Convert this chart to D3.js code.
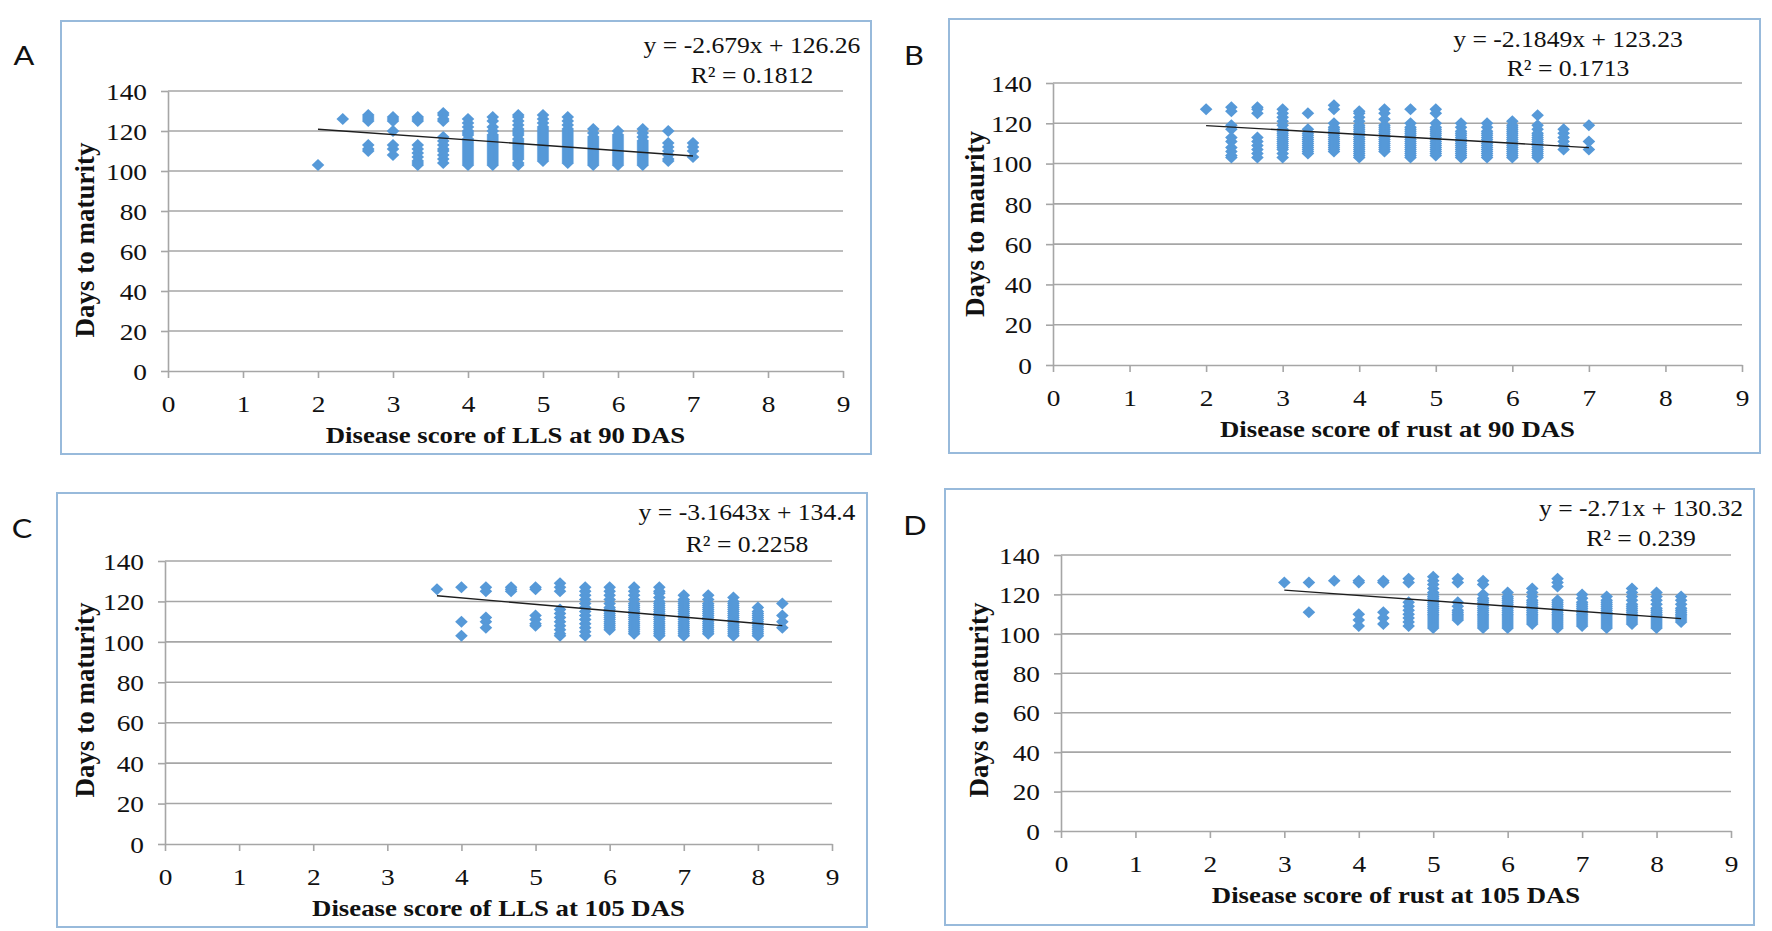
<!DOCTYPE html>
<html>
<head>
<meta charset="utf-8">
<script src="https://cdn.jsdelivr.net/npm/d3@7"></script>
<style>
  body { margin: 0; background: #fff; }
  svg { display: block; }
</style>
</head>
<body>
<svg width="1772" height="931"></svg>
<script>
// tick labels shared by all four panels
var xTicks = [0, 1, 2, 3, 4, 5, 6, 7, 8, 9];
var yTicks = [0, 20, 40, 60, 80, 100, 120, 140];

// A: LLS at 90 DAS
var scoreA = [2, 2.33, 2.67, 3, 3.33, 3.67, 4, 4.33, 4.67, 5, 5.33, 5.67, 6, 6.33, 6.67, 7];
var daysA = [
  [103],
  [126],
  [128, 127, 126, 125, 113, 111, 110],
  [127, 126, 125, 120, 113, 111, 108],
  [127, 126, 125, 113, 111, 109, 107, 105, 104, 103],
  [129, 128, 126, 125, 117, 115, 113, 111, 110, 108, 106, 104],
  [126, 124, 122, 120, 119, 118, 116, 115, 114, 113, 112, 111, 110, 109, 108, 107, 106, 105, 104, 103],
  [127, 125, 122, 120, 118, 117, 116, 115, 114, 113, 112, 111, 110, 109, 108, 107, 106, 105, 104, 103],
  [128, 127, 125, 123, 121, 120, 119, 118, 116, 115, 114, 113, 112, 111, 110, 109, 108, 107, 106, 104, 103],
  [128, 126, 124, 122, 121, 120, 119, 118, 117, 116, 115, 114, 113, 112, 111, 110, 109, 108, 107, 106, 105],
  [127, 125, 123, 121, 120, 119, 118, 117, 116, 115, 114, 113, 112, 111, 110, 109, 108, 107, 106, 105, 104],
  [121, 119, 117, 116, 115, 114, 113, 112, 111, 110, 109, 108, 107, 106, 105, 104, 103],
  [120, 118, 117, 116, 115, 114, 113, 112, 111, 110, 109, 108, 107, 106, 105, 104, 103],
  [121, 119, 117, 115, 114, 113, 112, 111, 110, 109, 108, 107, 106, 105, 104, 103],
  [120, 114, 112, 110, 108, 106, 105],
  [114, 112, 110, 107]
];
var trendA = [-2.679, 126.26, 2, 7];
var eqA = ["y = -2.679x + 126.26", "R\u00b2 = 0.1812"];

// B: rust at 90 DAS
var scoreB = [2, 2.33, 2.67, 3, 3.33, 3.67, 4, 4.33, 4.67, 5, 5.33, 5.67, 6, 6.33, 6.67, 7];
var daysB = [
  [127],
  [128, 126, 119, 117, 113, 111, 108, 106, 104, 103],
  [128, 127, 125, 113, 111, 109, 107, 105, 103],
  [127, 125, 123, 121, 119, 117, 116, 115, 114, 113, 112, 111, 110, 109, 108, 107, 105, 103],
  [125, 117, 115, 114, 113, 112, 111, 110, 109, 108, 107, 106, 105],
  [129, 127, 120, 118, 117, 116, 115, 114, 113, 112, 111, 110, 109, 108, 107, 106],
  [126, 125, 123, 121, 119, 118, 117, 116, 115, 114, 113, 112, 111, 110, 109, 108, 107, 106, 105, 104, 103],
  [127, 125, 122, 119, 118, 117, 116, 115, 114, 113, 112, 111, 110, 109, 108, 107, 106],
  [127, 120, 118, 117, 116, 115, 114, 113, 112, 111, 110, 109, 108, 107, 106, 105, 104, 103],
  [127, 125, 120, 118, 117, 116, 115, 114, 113, 112, 111, 110, 109, 108, 107, 106, 105, 104],
  [120, 118, 116, 115, 114, 113, 112, 111, 110, 109, 108, 107, 106, 105, 104, 103],
  [120, 118, 116, 115, 114, 113, 112, 111, 110, 109, 108, 107, 106, 105, 104, 103],
  [121, 119, 118, 117, 116, 115, 114, 113, 112, 111, 110, 109, 108, 107, 106, 105, 104, 103],
  [124, 119, 117, 115, 114, 113, 112, 111, 110, 109, 108, 107, 106, 105, 104, 103],
  [117, 115, 113, 111, 109, 107],
  [119, 111, 107]
];
var trendB = [-2.1849, 123.23, 2, 7];
var eqB = ["y = -2.1849x + 123.23", "R\u00b2 = 0.1713"];

// C: LLS at 105 DAS
var scoreC = [3.67, 4, 4.33, 4.67, 5, 5.33, 5.67, 6, 6.33, 6.67, 7, 7.33, 7.67, 8, 8.33];
var daysC = [
  [126],
  [127, 110, 103],
  [127, 125, 112, 110, 107],
  [127, 126, 125],
  [127, 126, 113, 111, 109, 108],
  [129, 127, 125, 116, 114, 112, 110, 108, 106, 104, 103],
  [127, 125, 123, 121, 119, 117, 115, 113, 111, 109, 107, 105, 103],
  [127, 125, 123, 121, 119, 117, 116, 115, 114, 113, 112, 111, 110, 109, 108, 107, 106],
  [127, 125, 123, 121, 119, 118, 117, 116, 115, 114, 113, 112, 111, 110, 109, 108, 107, 106, 105, 104],
  [127, 125, 124, 122, 120, 119, 118, 117, 116, 115, 114, 113, 112, 111, 110, 109, 108, 107, 106, 105, 104, 103],
  [123, 121, 120, 119, 118, 117, 116, 115, 114, 113, 112, 111, 110, 109, 108, 107, 106, 105, 104, 103],
  [123, 121, 119, 118, 117, 116, 115, 114, 113, 112, 111, 110, 109, 108, 107, 106, 105, 104],
  [122, 120, 119, 118, 117, 116, 115, 114, 113, 112, 111, 110, 109, 108, 107, 106, 105, 104, 103],
  [117, 115, 114, 113, 112, 111, 110, 109, 108, 107, 106, 105, 104, 103],
  [119, 113, 110, 107]
];
var trendC = [-3.1643, 134.4, 3.67, 8.33];
var eqC = ["y = -3.1643x + 134.4", "R\u00b2 = 0.2258"];

// D: rust at 105 DAS
var scoreD = [3, 3.33, 3.67, 4, 4.33, 4.67, 5, 5.33, 5.67, 6, 6.33, 6.67, 7, 7.33, 7.67, 8, 8.33];
var daysD = [
  [126],
  [126, 111],
  [127],
  [127, 126, 110, 107, 104],
  [127, 126, 111, 108, 105],
  [128, 126, 116, 114, 112, 110, 108, 106, 104],
  [129, 127, 125, 123, 121, 120, 119, 118, 117, 116, 115, 114, 113, 112, 111, 110, 109, 108, 107, 106, 105, 104, 103],
  [128, 126, 116, 114, 112, 111, 110, 109, 108, 107],
  [127, 125, 120, 118, 117, 116, 115, 114, 113, 112, 111, 110, 109, 108, 107, 106, 105, 104, 103],
  [121, 119, 118, 117, 116, 115, 114, 113, 112, 111, 110, 109, 108, 107, 106, 105, 104, 103],
  [123, 121, 119, 117, 116, 115, 114, 113, 112, 111, 110, 109, 108, 107, 106, 105],
  [128, 126, 124, 117, 116, 115, 114, 113, 112, 111, 110, 109, 108, 107, 106, 105, 104, 103],
  [120, 118, 116, 115, 114, 113, 112, 111, 110, 109, 108, 107, 106, 105, 104],
  [119, 117, 116, 115, 114, 113, 112, 111, 110, 109, 108, 107, 106, 105, 104, 103],
  [123, 121, 119, 117, 115, 114, 113, 112, 111, 110, 109, 108, 107, 106, 105],
  [121, 119, 117, 115, 113, 112, 111, 110, 109, 108, 107, 106, 105, 104, 103],
  [119, 117, 115, 113, 112, 111, 110, 109, 108, 107, 106]
];
var trendD = [-2.71, 130.32, 3, 8.33];
var eqD = ["y = -2.71x + 130.32", "R\u00b2 = 0.239"];

var panels = [
  {name: "A", box: [61, 21, 871, 454], xr: [168, 843], yr: [371, 91], label: [24, 65],
   eqX: 752, eqY: [53, 83], yt: [85, 240], xs: scoreA, ys: daysA, trend: trendA, eq: eqA,
   xTitle: "Disease score of LLS at 90 DAS", yTitle: "Days to maturity"},
  {name: "B", box: [949, 19, 1760, 453], xr: [1053, 1742], yr: [365, 83], label: [914, 65],
   eqX: 1568, eqY: [47, 76], yt: [975, 224], xs: scoreB, ys: daysB, trend: trendB, eq: eqB,
   xTitle: "Disease score of rust at 90 DAS", yTitle: "Days to maurity"},
  {name: "C", box: [57, 493, 867, 927], xr: [165, 832], yr: [844, 561], label: [22, 538],
   eqX: 747, eqY: [520, 552], yt: [85, 700], xs: scoreC, ys: daysC, trend: trendC, eq: eqC,
   xTitle: "Disease score of LLS at 105 DAS", yTitle: "Days to maturity"},
  {name: "D", box: [945, 489, 1754, 925], xr: [1061, 1731], yr: [831, 555], label: [915, 535],
   eqX: 1641, eqY: [516, 546], yt: [979, 700], xs: scoreD, ys: daysD, trend: trendD, eq: eqD,
   xTitle: "Disease score of rust at 105 DAS", yTitle: "Days to maturity"}
];

var SX = 1.14;   // the original figure is a little stretched sideways
var serif = "'Liberation Serif', 'Times New Roman', serif";
var gridColor = "#a6a6a6";
var dotColor = "#5699d8";

var svg = d3.select("svg");

function stext(g, x, y, s) {
  return g.append("text")
    .attr("transform", "translate(" + x + "," + y + ") scale(" + SX + ",1)")
    .text(s);
}

panels.forEach(function(p) {
  var g = svg.append("g").attr("class", "panel panel-" + p.name);

  g.append("rect")
    .attr("x", p.box[0]).attr("y", p.box[1])
    .attr("width", p.box[2] - p.box[0]).attr("height", p.box[3] - p.box[1])
    .attr("fill", "none").attr("stroke", "#98badb").attr("stroke-width", 2);

  var x = d3.scaleLinear().domain([0, 9]).range(p.xr);
  var y = d3.scaleLinear().domain([0, 140]).range(p.yr);

  g.selectAll(".grid")
    .data(yTicks.slice(1))
    .enter().append("line")
      .attr("class", "grid")
      .attr("x1", x(0)).attr("x2", x(9))
      .attr("y1", function(d) { return y(d); })
      .attr("y2", function(d) { return y(d); })
      .attr("stroke", gridColor).attr("stroke-width", 1.6);

  var gx = g.append("g")
    .attr("transform", "translate(0," + y(0) + ")")
    .call(d3.axisBottom(x).tickValues(xTicks).tickSize(7).tickSizeOuter(0).tickFormat(d3.format("d")));
  gx.selectAll("text")
    .attr("y", 41).attr("dy", 0)
    .attr("transform", "scale(" + SX + ",1)");

  var gy = g.append("g")
    .attr("transform", "translate(" + x(0) + ",0)")
    .call(d3.axisLeft(y).tickValues(yTicks).tickSize(7).tickSizeOuter(0));
  gy.selectAll("text")
    .attr("x", -21 / SX).attr("dy", "0.34em")
    .attr("transform", "scale(" + SX + ",1)");

  [gx, gy].forEach(function(a) {
    a.select(".domain").attr("stroke", gridColor).attr("stroke-width", 1.6);
    a.selectAll(".tick line").attr("stroke", gridColor).attr("stroke-width", 1.6);
    a.selectAll("text")
      .attr("fill", "#111")
      .style("font-family", serif)
      .style("font-size", "24px");
  });

  var pts = [];
  p.xs.forEach(function(xv, i) {
    p.ys[i].forEach(function(v) { pts.push({x: xv, y: v}); });
  });

  g.selectAll(".dot")
    .data(pts)
    .enter().append("path")
      .attr("class", "dot")
      .attr("d", "M0,-6L6.3,0L0,6L-6.3,0Z")
      .attr("transform", function(d) { return "translate(" + x(d.x) + "," + y(d.y) + ")"; })
      .attr("fill", dotColor);

  var t = p.trend;
  var line = d3.line()
    .x(function(d) { return x(d); })
    .y(function(d) { return y(t[0] * d + t[1]); });
  g.append("path")
    .datum([t[2], t[3]])
    .attr("d", line)
    .attr("fill", "none").attr("stroke", "#1e1e1e").attr("stroke-width", 1.4);

  p.eq.forEach(function(s, i) {
    stext(g, p.eqX, p.eqY[i], s)
      .attr("text-anchor", "middle")
      .style("font-family", serif).style("font-size", "22.5px").attr("fill", "#111");
  });

  stext(g, (p.xr[0] + p.xr[1]) / 2, y(0) + 72, p.xTitle)
    .attr("text-anchor", "middle")
    .style("font-family", serif).style("font-size", "23.5px").style("font-weight", "bold")
    .attr("fill", "#111");

  g.append("text")
    .attr("transform", "translate(" + p.yt[0] + "," + p.yt[1] + ") rotate(-90)")
    .attr("text-anchor", "middle").attr("dy", "0.35em")
    .style("font-family", serif).style("font-size", "27px").style("font-weight", "bold")
    .attr("fill", "#111")
    .text(p.yTitle);

  stext(g, p.label[0], p.label[1], p.name)
    .attr("text-anchor", "middle")
    .style("font-family", "Lato, 'Open Sans', sans-serif").style("font-size", "27px")
    .attr("fill", "#111");
});
</script>
</body>
</html>
